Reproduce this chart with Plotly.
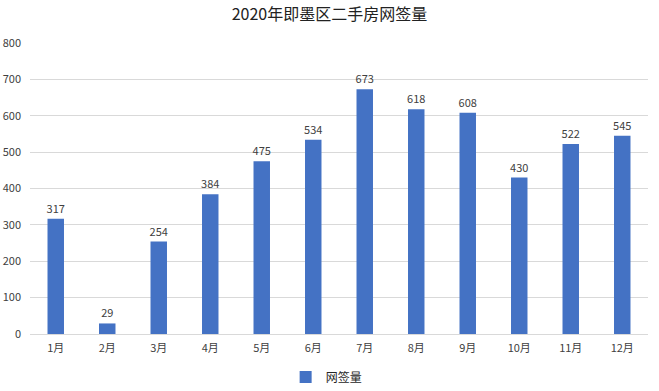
import plotly.graph_objects as go

months = ["1月", "2月", "3月", "4月", "5月", "6月", "7月", "8月", "9月", "10月", "11月", "12月"]
values = [317, 29, 254, 384, 475, 534, 673, 618, 608, 430, 522, 545]
series_name = "网签量"
title = "2020年即墨区二手房网签量"

font_family = "Noto Sans CJK SC, Microsoft YaHei, sans-serif"

fig = go.Figure()
fig.add_trace(go.Bar(
    x=months, y=values, name=series_name,
    marker=dict(color="#4472C4", line=dict(width=0)),
    width=0.32,
    text=values, textposition="outside", constraintext="none",
    textfont=dict(size=11, color="#404040", family=font_family),
    cliponaxis=False,
))

fig.update_layout(
    width=659, height=391,
    margin=dict(l=30, r=11, t=43, b=57, autoexpand=False),
    paper_bgcolor="white", plot_bgcolor="white",
    font=dict(family=font_family, size=11, color="#595959"),
    title=dict(text=title, x=0.5, xanchor="center", yref="container", y=0.962, yanchor="middle",
               font=dict(size=16, color="#222222", family=font_family)),
    showlegend=True,
    legend=dict(orientation="h", x=0.48, xanchor="center", yref="container", y=0.036, yanchor="middle",
                font=dict(size=12, color="#262626"), itemwidth=30),
    bargap=0.68,
)
fig.update_yaxes(range=[0, 800], dtick=100, showgrid=True, gridcolor="#d9d9d9", gridwidth=1,
                 zeroline=False, showline=False, ticks="", ticklabelstandoff=8, automargin=False,
                 tickfont=dict(size=11, color="#404040"))
fig.update_xaxes(showline=True, linecolor="#d9d9d9", linewidth=1, ticks="", automargin=False,
                 tickfont=dict(size=11, color="#404040"), ticklabelstandoff=4)

fig.write_html("out.html", config={"displayModeBar": False},
               post_script="document.body.style.margin='0';")
